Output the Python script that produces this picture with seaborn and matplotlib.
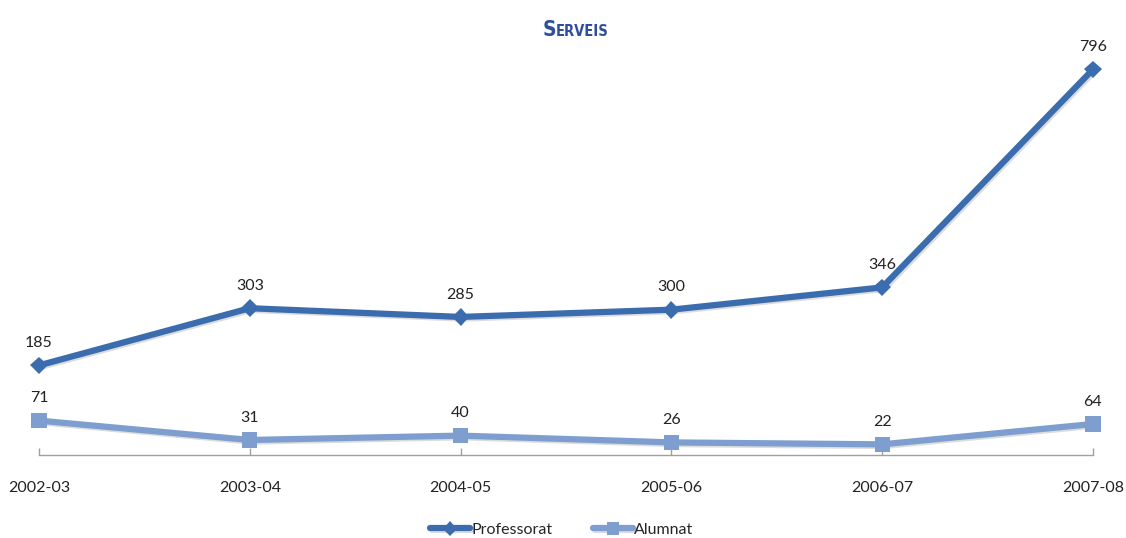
import matplotlib
matplotlib.use('Agg')
import matplotlib.pyplot as plt
import matplotlib.patheffects as pe
import pandas as pd
import seaborn as sns

# Data
years = ['2002-03', '2003-04', '2004-05', '2005-06', '2006-07', '2007-08']
professorat = [185, 303, 285, 300, 346, 796]
alumnat = [71, 31, 40, 26, 22, 64]

df = pd.DataFrame({'curs': years, 'Professorat': professorat, 'Alumnat': alumnat})
df['pos'] = range(len(years))

sns.set_theme(style='white')
plt.rcParams['font.family'] = ['Lato', 'DejaVu Sans']

fig = plt.figure(figsize=(11.26, 5.38), dpi=100)
ax = fig.add_axes([39 / 1126, 83 / 538, (1093 - 39) / 1126, 436 / 538])

shadow = [pe.SimpleLineShadow(offset=(1.2, -1.2), alpha=0.15), pe.Normal()]

series = [
    ('Professorat', '#3B6DAE', 'D', 9),
    ('Alumnat', '#7E9ECF', 's', 11),
]
for name, color, marker, msize in series:
    sns.lineplot(data=df, x='pos', y=name, ax=ax, color=color, linewidth=4.5,
                 marker=marker, markersize=msize, markeredgewidth=0,
                 label=name, clip_on=False, path_effects=shadow)
    for x, v in zip(df['pos'], df[name]):
        ax.annotate(str(v), (x, v), xytext=(0, 11), textcoords='offset points',
                    ha='center', va='bottom', fontsize=11.5, color='#222222')

ax.set_xlim(0, len(years) - 1)
ax.set_ylim(0, 900)
ax.set_xticks(df['pos'])
ax.set_xticklabels(years, fontsize=11.5, color='#222222')
ax.set_yticks([])
ax.set_xlabel('')
ax.set_ylabel('')
for side in ['top', 'right', 'left']:
    ax.spines[side].set_visible(False)
ax.spines['bottom'].set_color('#a0a0a0')
ax.spines['bottom'].set_linewidth(1)
ax.tick_params(axis='x', direction='in', length=5, width=1, color='#a0a0a0', pad=19, bottom=True)

ax.get_legend().remove()
handles, labels = ax.get_legend_handles_labels()
fig.legend(handles, labels, loc='center', bbox_to_anchor=(562 / 1126, 1 - 530 / 538),
           ncol=2, frameon=False, fontsize=11.5, handlelength=2.5, handletextpad=0.1,
           columnspacing=2.5, markerscale=0.8)

title_font = dict(family=['Liberation Sans Narrow', 'DejaVu Sans'], fontstretch='condensed',
                  fontweight='semibold', color='#2E4E9E')
fig.text(556 / 1126, 1 - 30 / 538, 'S', fontsize=15, ha='right', va='center', **title_font)
fig.text(556 / 1126, 1 - 31 / 538, 'ERVEIS', fontsize=10.5, ha='left', va='center', **title_font)

fig.savefig('out.png', dpi=100)
